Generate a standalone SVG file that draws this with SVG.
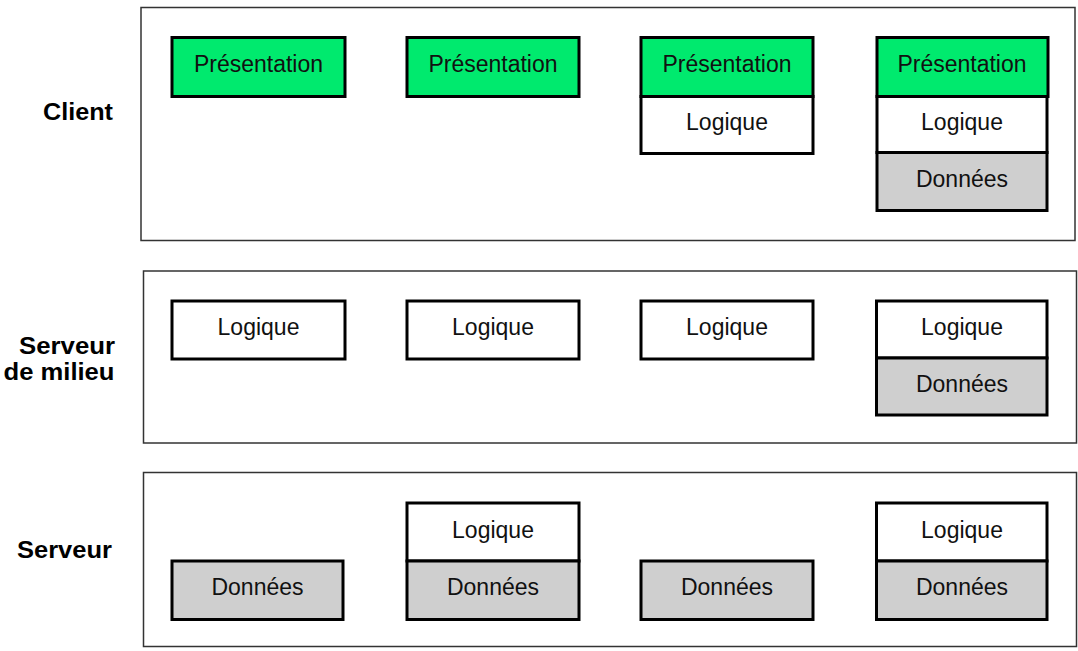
<svg xmlns="http://www.w3.org/2000/svg" width="1078" height="651" viewBox="0 0 1078 651">
<style>
.panel{fill:#fff;stroke:#333;stroke-width:1.5}
.box{stroke:#000;stroke-width:3}
.g{fill:#00EA6E}
.w{fill:#fff}
.d{fill:#CFCFCF}
.t{font-family:"Liberation Sans",Arial,sans-serif;font-size:23px;fill:#111;text-anchor:middle}
.lbl{font-family:"Liberation Sans",Arial,sans-serif;font-size:23.5px;font-weight:bold;fill:#000}
</style>
<rect width="1078" height="651" fill="#fff"/>
<g id="panel-client">
<rect class="panel" x="141" y="7.5" width="934" height="233"/>
<text class="lbl" x="43" y="120" textLength="70" lengthAdjust="spacingAndGlyphs">Client</text>
</g>
<g id="panel-milieu">
<rect class="panel" x="143.5" y="271" width="933" height="172"/>
<text class="lbl" x="19" y="354" textLength="96" lengthAdjust="spacingAndGlyphs">Serveur</text>
<text class="lbl" x="3.5" y="380" textLength="111" lengthAdjust="spacingAndGlyphs">de milieu</text>
</g>
<g id="panel-serveur">
<rect class="panel" x="143.5" y="472.5" width="933" height="174"/>
<text class="lbl" x="17" y="558" textLength="95" lengthAdjust="spacingAndGlyphs">Serveur</text>
</g>
<g id="client-1">
<rect class="box g" x="172" y="37.5" width="173" height="59"/>
<text class="t" x="258.5" y="72">Présentation</text>
</g>
<g id="client-2">
<rect class="box g" x="407" y="37.5" width="172" height="59"/>
<text class="t" x="493" y="72">Présentation</text>
</g>
<g id="client-3">
<rect class="box g" x="641" y="37.5" width="172" height="59"/>
<text class="t" x="727" y="72">Présentation</text>
<rect class="box w" x="641" y="96.5" width="172" height="57"/>
<text class="t" x="727" y="129.5">Logique</text>
</g>
<g id="client-4">
<rect class="box g" x="877" y="37.5" width="171" height="59"/>
<text class="t" x="962" y="72">Présentation</text>
<rect class="box w" x="877" y="96.5" width="170" height="56"/>
<text class="t" x="962" y="129.5">Logique</text>
<rect class="box d" x="877" y="152.5" width="170" height="58"/>
<text class="t" x="962" y="187">Données</text>
</g>
<g id="milieu-1">
<rect class="box w" x="172" y="301" width="173" height="58"/>
<text class="t" x="258.5" y="334.5">Logique</text>
</g>
<g id="milieu-2">
<rect class="box w" x="407" y="301" width="172" height="58"/>
<text class="t" x="493" y="334.5">Logique</text>
</g>
<g id="milieu-3">
<rect class="box w" x="641" y="301" width="172" height="58"/>
<text class="t" x="727" y="334.5">Logique</text>
</g>
<g id="milieu-4">
<rect class="box w" x="876.5" y="301" width="170.5" height="57"/>
<text class="t" x="962" y="334.5">Logique</text>
<rect class="box d" x="876.5" y="358" width="170.5" height="57"/>
<text class="t" x="962" y="392">Données</text>
</g>
<g id="serveur-1">
<rect class="box d" x="172" y="561" width="171" height="58.5"/>
<text class="t" x="257.5" y="595">Données</text>
</g>
<g id="serveur-2">
<rect class="box w" x="407" y="503" width="172" height="58"/>
<text class="t" x="493" y="537.5">Logique</text>
<rect class="box d" x="407" y="561" width="172" height="58.5"/>
<text class="t" x="493" y="595">Données</text>
</g>
<g id="serveur-3">
<rect class="box d" x="641" y="561" width="172" height="58.5"/>
<text class="t" x="727" y="595">Données</text>
</g>
<g id="serveur-4">
<rect class="box w" x="876.5" y="503" width="170.5" height="58"/>
<text class="t" x="962" y="537.5">Logique</text>
<rect class="box d" x="876.5" y="561" width="170.5" height="58.5"/>
<text class="t" x="962" y="595">Données</text>
</g>
<g id="connectors"></g>
</svg>
